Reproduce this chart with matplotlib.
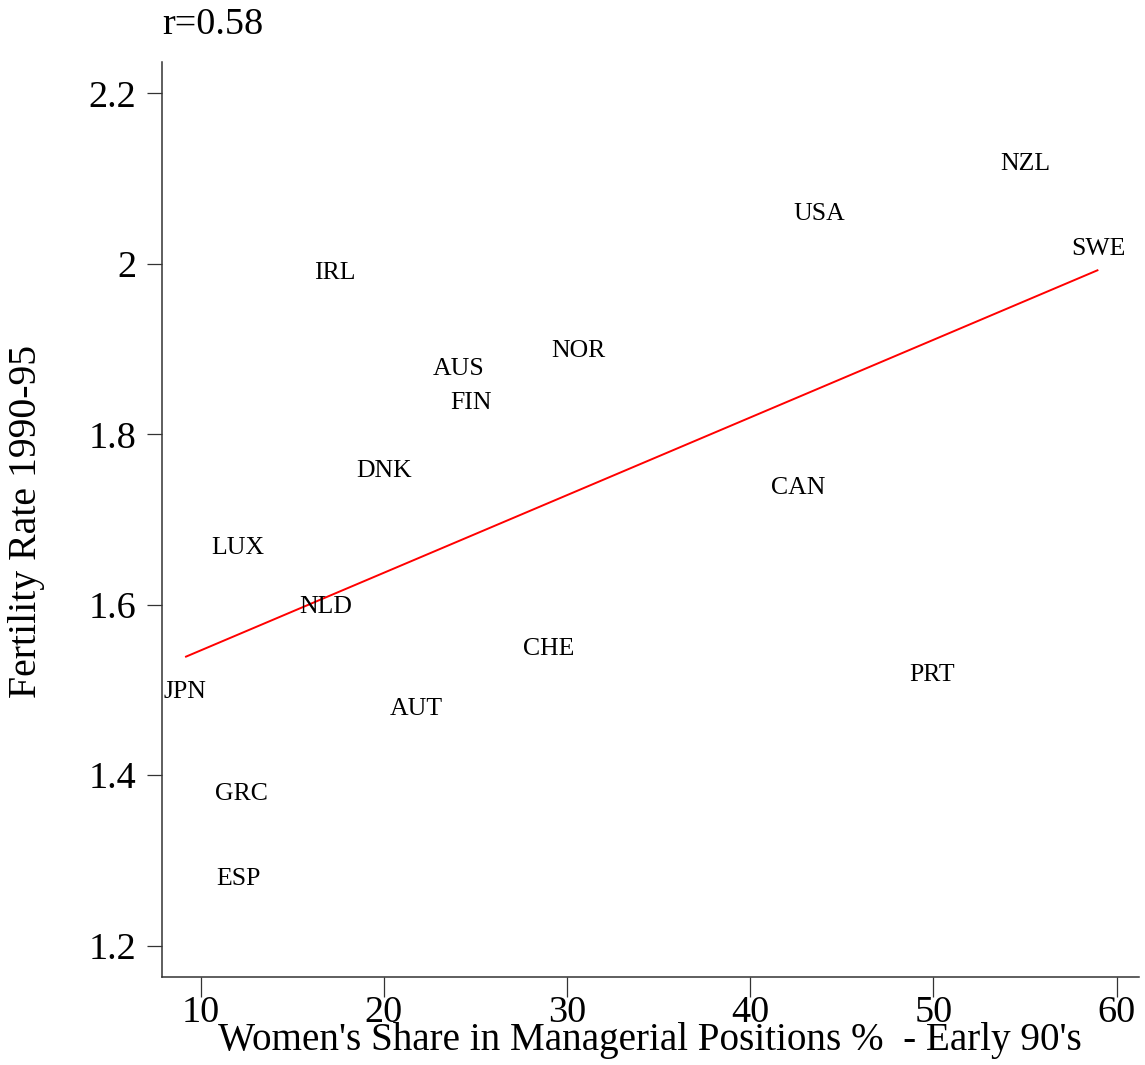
import numpy as np
import matplotlib
matplotlib.use("Agg")
import matplotlib.pyplot as plt

countries = ["NZL", "USA", "SWE", "IRL", "NOR", "AUS", "FIN", "DNK", "CAN",
             "LUX", "NLD", "CHE", "PRT", "JPN", "AUT", "GRC", "ESP"]
women_share = [55.0, 43.75, 59.0, 17.3, 30.6, 24.1, 24.75, 20.0, 42.6,
               12.05, 16.85, 29.0, 49.95, 9.15, 21.75, 12.2, 12.05]
fertility = [2.109, 2.050, 2.009, 1.981, 1.890, 1.869, 1.829, 1.749, 1.729,
             1.659, 1.590, 1.540, 1.510, 1.490, 1.470, 1.370, 1.270]

x_ticks = [10, 20, 30, 40, 50, 60]
y_ticks = [1.2, 1.4, 1.6, 1.8, 2.0, 2.2]
y_tick_labels = ["1.2", "1.4", "1.6", "1.8", "2", "2.2"]

plt.rcParams['font.family'] = ['Liberation Serif', 'DejaVu Serif']

W, H = 1145, 1065
fig = plt.figure(figsize=(W / 100, H / 100), dpi=100)
ax = fig.add_axes([162 / W, 1 - 977 / H, (1139 - 162) / W, (977 - 62) / H])

x = np.array(women_share)
y = np.array(fertility)
slope, intercept = np.polyfit(x, y, 1)
xs = np.array([x.min(), x.max()])
ax.plot(xs, intercept + slope * xs, color="red", lw=1.4, solid_capstyle="butt")

for c, xi, yi in zip(countries, women_share, fertility):
    ax.annotate(c, (xi, yi), xytext=(0, 4.8), textcoords="offset points",
                ha="center", va="center", fontsize=18.5, color="black")

ax.set_xlim(7.888, 61.22)
ax.set_ylim(1.1633, 2.2367)
ax.set_xticks(x_ticks)
ax.set_xticklabels([str(t) for t in x_ticks])
ax.set_yticks(y_ticks)
ax.set_yticklabels(y_tick_labels)

for s in ["top", "right"]:
    ax.spines[s].set_visible(False)
for s in ["left", "bottom"]:
    ax.spines[s].set_color("#333333")
    ax.spines[s].set_linewidth(1.1)

ax.tick_params(axis="x", length=14.4, width=0.9, pad=-1, labelsize=27.5, color="#333333")
ax.tick_params(axis="y", length=10.8, width=0.9, pad=7.5, labelsize=27.5, color="#333333")

fig.text(162 / W, 1 - 34 / H, "r=%.2f" % 0.58, fontsize=27.5, ha="left", va="baseline")
fig.text(650 / W, 1 - 1050 / H, "Women's Share in Managerial Positions %  - Early 90's",
         fontsize=28.2, ha="center", va="baseline")
fig.text(27 / W, 1 - 521 / H, "Fertility Rate 1990-95", fontsize=28.6,
         rotation=90, ha="center", va="center")

fig.savefig("out.png", dpi=100)
